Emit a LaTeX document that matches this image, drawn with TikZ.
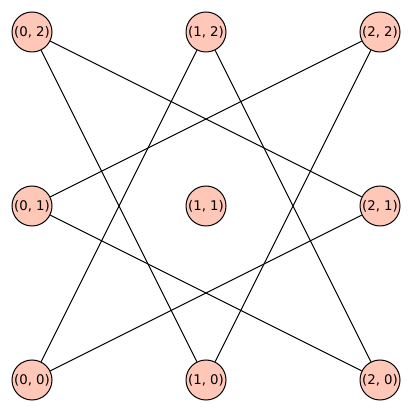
\documentclass[tikz,border=0pt]{standalone}
\usepackage{fontspec}
\setmainfont{DejaVu Sans}
\definecolor{vtxfill}{HTML}{FEC7B8}
\tikzset{
  vtx/.style={circle,draw=black,fill=vtxfill,minimum size=40pt,inner sep=0pt,
    line width=1pt,font=\fontsize{13.3}{15}\selectfont},
  edge/.style={black,line width=1pt},
}
\begin{document}
\begin{tikzpicture}[x=1pt,y=1pt]
  \useasboundingbox (0,0) rectangle (412,412);
  % vertices
  \foreach \i in {0,1,2}
    \foreach \j in {0,1,2}
      \node[vtx] (v\i\j) at (32+174*\i,32+174*\j) {(\i, \j)};
  % edges
  \draw[edge] (v02)--(v10);
  \draw[edge] (v02)--(v21);
  \draw[edge] (v12)--(v00);
  \draw[edge] (v12)--(v20);
  \draw[edge] (v22)--(v01);
  \draw[edge] (v22)--(v10);
  \draw[edge] (v01)--(v20);
  \draw[edge] (v21)--(v00);
\end{tikzpicture}
\end{document}
